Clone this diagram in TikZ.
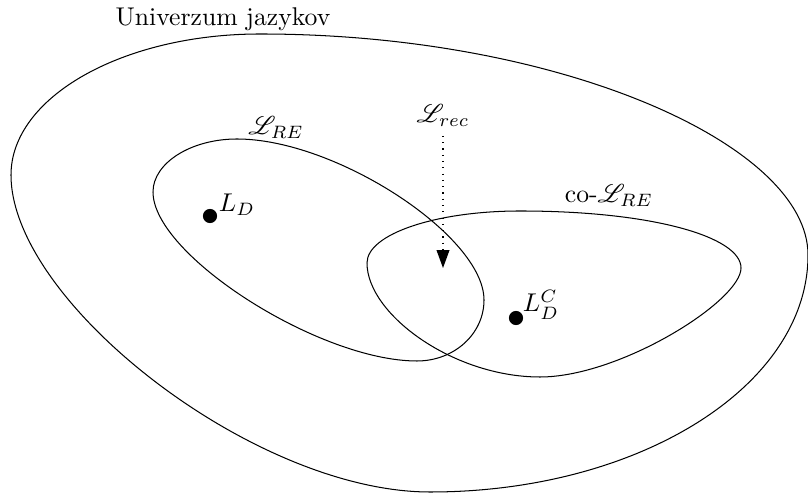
\documentclass[tikz,border=0pt]{standalone}
\usepackage{amsmath}
\usepackage{amssymb}
\usepackage{mathrsfs}
\usepackage{tikz}
\usetikzlibrary{arrows.meta, positioning}

\begin{document}
\begin{tikzpicture}[x=0.0137cm, y=-0.0137cm, >=Stealth,
  region/.style={draw, line width=0.4pt},
  langdot/.style={circle, fill, inner sep=1.95pt},
  ptlabel/.style={anchor=base, inner sep=1pt},
  recarrow/.style={-{Triangle[length=7pt, width=5pt]}, dotted, line width=0.45pt}]

\useasboundingbox (0,0) rectangle (808,493);

% Universe of languages
\draw[region] (260,34) .. controls (123,34) and (11,97) .. (11,175)
  .. controls (11,302) and (254,492) .. (430,492)
  .. controls (639,492) and (808,386) .. (808,255)
  .. controls (808,145) and (561,34) .. cycle;

% Recursively enumerable
\draw[region] (237,139) .. controls (191,139) and (153,163) .. (153,192)
  .. controls (153,255) and (319,361) .. (417,361)
  .. controls (454,361) and (484,334) .. (484,300)
  .. controls (484,236) and (336,139) .. cycle;

% co-RE
\draw[region] (520,211) .. controls (653,211) and (741,237) .. (741,268)
  .. controls (741,301) and (620,377) .. (540,377)
  .. controls (453,377) and (367,314) .. (367,263)
  .. controls (367,234) and (436,211) .. cycle;

% Labels
\node[anchor=base] (univ) at (223,26) {Univerzum jazykov};
\node[anchor=base] (REl) at (276,135) {$\mathscr{L}_{RE}$};
\node[anchor=base] (coREl) at (609,203) {co-$\mathscr{L}_{RE}$};
\node[anchor=base] (Lrec) at (443,123) {$\mathscr{L}_{rec}$};

% Points
\node[langdot] (LD) at (210,216) {};
\node[ptlabel] (LDlab) at (237,212) {$L_D$};
\node[langdot] (LDC) at (516,318) {};
\node[ptlabel] (LDClab) at (541,312) {$L_D^C$};

% Recursive languages sit in the intersection
\coordinate (rectip) at (443,268);
\draw[recarrow] (Lrec) -- (rectip);

\end{tikzpicture}
\end{document}
